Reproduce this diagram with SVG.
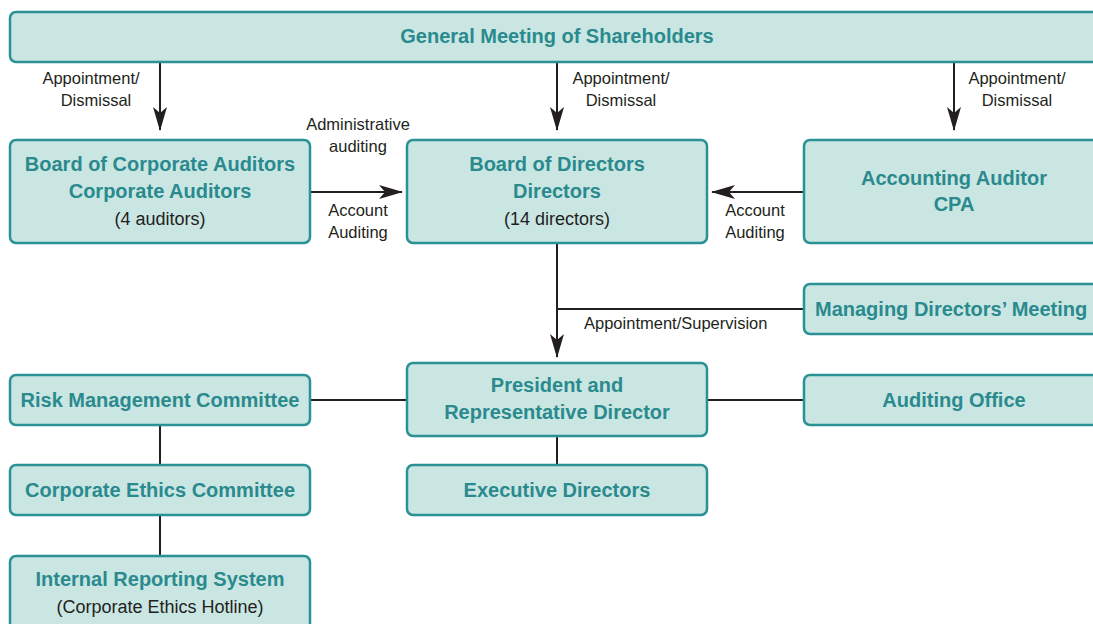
<svg xmlns="http://www.w3.org/2000/svg" width="1093" height="624" viewBox="0 0 1093 624">
  <defs>
    <style>
      .box { fill: #c9e6e3; stroke: #2b9194; stroke-width: 2.5; }
      .title { font-family: "Liberation Sans", Arial, sans-serif; font-weight: bold; font-size: 20px; fill: #2a8a8d; text-anchor: middle; }
      .sub { font-family: "Liberation Sans", Arial, sans-serif; font-size: 18px; fill: #231f20; text-anchor: middle; }
      .lbl { font-family: "Liberation Sans", Arial, sans-serif; font-size: 16.5px; fill: #231f20; text-anchor: middle; }
      .conn { stroke: #231f20; stroke-width: 2; fill: none; }
    </style>
    <marker id="arrow" viewBox="0 0 24 14" markerWidth="24" markerHeight="14" refX="23" refY="7" orient="auto" markerUnits="userSpaceOnUse">
      <path d="M0,0 L24,7 L0,14 L6,7 Z" fill="#231f20"/>
    </marker>
  </defs>

  <rect width="1093" height="624" fill="#ffffff"/>

  <!-- connectors -->
  <g id="connectors">
    <line class="conn" x1="160" y1="62" x2="160" y2="130" marker-end="url(#arrow)"/>
    <line class="conn" x1="557" y1="62" x2="557" y2="130" marker-end="url(#arrow)"/>
    <line class="conn" x1="954" y1="62" x2="954" y2="130" marker-end="url(#arrow)"/>
    <line class="conn" x1="310" y1="192" x2="402" y2="192" marker-end="url(#arrow)"/>
    <line class="conn" x1="804" y1="192" x2="712" y2="192" marker-end="url(#arrow)"/>
    <line class="conn" x1="557" y1="243" x2="557" y2="357" marker-end="url(#arrow)"/>
    <line class="conn" x1="557" y1="309" x2="804" y2="309"/>
    <line class="conn" x1="310" y1="400" x2="407" y2="400"/>
    <line class="conn" x1="707" y1="400" x2="804" y2="400"/>
    <line class="conn" x1="557" y1="436" x2="557" y2="465"/>
    <line class="conn" x1="160" y1="425" x2="160" y2="465"/>
    <line class="conn" x1="160" y1="515" x2="160" y2="556"/>

    <text class="lbl" x="91" y="84">Appointment/</text>
    <text class="lbl" x="96" y="106">Dismissal</text>
    <text class="lbl" x="621" y="84">Appointment/</text>
    <text class="lbl" x="621" y="106">Dismissal</text>
    <text class="lbl" x="1017" y="84">Appointment/</text>
    <text class="lbl" x="1017" y="106">Dismissal</text>
    <text class="lbl" x="358" y="130">Administrative</text>
    <text class="lbl" x="358" y="152">auditing</text>
    <text class="lbl" x="358" y="216">Account</text>
    <text class="lbl" x="358" y="238">Auditing</text>
    <text class="lbl" x="755" y="216">Account</text>
    <text class="lbl" x="755" y="238">Auditing</text>
    <text class="lbl" x="584" y="329" style="text-anchor:start">Appointment/Supervision</text>
  </g>

  <g id="shareholders">
    <rect class="box" x="10" y="12" width="1100" height="50" rx="6"/>
    <text class="title" x="557" y="43">General Meeting of Shareholders</text>
  </g>

  <g id="corporate-auditors">
    <rect class="box" x="10" y="140" width="300" height="103" rx="6"/>
    <text class="title" x="160" y="171">Board of Corporate Auditors</text>
    <text class="title" x="160" y="198">Corporate Auditors</text>
    <text class="sub" x="160" y="225">(4 auditors)</text>
  </g>

  <g id="board-of-directors">
    <rect class="box" x="407" y="140" width="300" height="103" rx="6"/>
    <text class="title" x="557" y="171">Board of Directors</text>
    <text class="title" x="557" y="198">Directors</text>
    <text class="sub" x="557" y="225">(14 directors)</text>
  </g>

  <g id="accounting-auditor">
    <rect class="box" x="804" y="140" width="320" height="103" rx="6"/>
    <text class="title" x="954" y="185">Accounting Auditor</text>
    <text class="title" x="954" y="211">CPA</text>
  </g>

  <g id="managing-directors-meeting">
    <rect class="box" x="804" y="284" width="320" height="50" rx="6"/>
    <text class="title" x="815" y="316" style="text-anchor:start">Managing Directors’ Meeting</text>
  </g>

  <g id="president">
    <rect class="box" x="407" y="363" width="300" height="73" rx="6"/>
    <text class="title" x="557" y="392">President and</text>
    <text class="title" x="557" y="419">Representative Director</text>
  </g>

  <g id="risk-management">
    <rect class="box" x="10" y="375" width="300" height="50" rx="6"/>
    <text class="title" x="160" y="407">Risk Management Committee</text>
  </g>

  <g id="auditing-office">
    <rect class="box" x="804" y="375" width="320" height="50" rx="6"/>
    <text class="title" x="954" y="407">Auditing Office</text>
  </g>

  <g id="executive-directors">
    <rect class="box" x="407" y="465" width="300" height="50" rx="6"/>
    <text class="title" x="557" y="497">Executive Directors</text>
  </g>

  <g id="corporate-ethics">
    <rect class="box" x="10" y="465" width="300" height="50" rx="6"/>
    <text class="title" x="160" y="497">Corporate Ethics Committee</text>
  </g>

  <g id="internal-reporting">
    <rect class="box" x="10" y="556" width="300" height="90" rx="6"/>
    <text class="title" x="160" y="586">Internal Reporting System</text>
    <text class="sub" x="160" y="613">(Corporate Ethics Hotline)</text>
  </g>
</svg>
